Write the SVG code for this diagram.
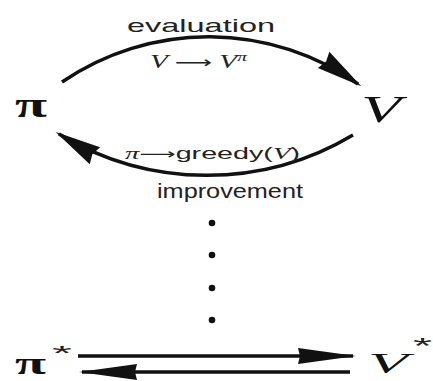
<svg xmlns="http://www.w3.org/2000/svg" width="433" height="381" viewBox="0 0 433 381">
<style>
.edge{fill:none;stroke:#111;stroke-width:3.5}
.lbl{font-family:"Liberation Sans",Arial,sans-serif;fill:#222}
.math{font-family:"Liberation Serif","Times New Roman",serif;font-style:italic;fill:#222}
.arr{font-family:"DejaVu Sans",sans-serif;font-style:normal}
.pi{font-family:"Liberation Serif","Times New Roman",serif;font-weight:bold;fill:#111}
.var{font-family:"Liberation Serif","Times New Roman",serif;font-style:italic;fill:#111}
.dot{fill:#111}
</style>
<defs>
<marker id="headC" markerUnits="userSpaceOnUse" orient="auto" markerWidth="60" markerHeight="30" refX="0" refY="0" overflow="visible">
<path d="M4,0 L-42,-10 L-39,0 L-42,10 Z" fill="#111"/>
</marker>
<marker id="headS" markerUnits="userSpaceOnUse" orient="auto" markerWidth="70" markerHeight="30" refX="0" refY="0" overflow="visible">
<path d="M3,0 L-55,-8 L-53,0 L-55,8 Z" fill="#111"/>
</marker>
</defs>
<rect width="433" height="381" fill="#fff"/>
<g id="connectors">
<path class="edge" d="M62,82 A260,260 0 0 1 358,84" marker-end="url(#headC)"/>
<path class="edge" d="M353,135 A285,285 0 0 1 59,134" marker-end="url(#headC)"/>
<path class="edge" d="M78,356 H353" marker-end="url(#headS)"/>
<path class="edge" d="M350,372 H82" marker-end="url(#headS)"/>
<text class="lbl" x="127" y="32" font-size="19" textLength="148" lengthAdjust="spacingAndGlyphs">evaluation</text>
<text class="math" x="150" y="68" font-size="18" textLength="97" lengthAdjust="spacingAndGlyphs">V <tspan class="arr" font-size="16">⟶</tspan> V<tspan font-size="12" dy="-7">π</tspan></text>
<text class="math" x="125" y="159" font-size="17" textLength="175" lengthAdjust="spacingAndGlyphs">π<tspan class="arr" font-size="15">⟶</tspan><tspan font-style="normal" font-family="Liberation Sans, Arial, sans-serif">greedy(</tspan>V<tspan font-style="normal" font-family="Liberation Sans, Arial, sans-serif">)</tspan></text>
<text class="lbl" x="157" y="198" font-size="21" textLength="146" lengthAdjust="spacingAndGlyphs">improvement</text>
</g>
<g id="node-pi">
<text class="pi" x="15" y="117" font-size="35" textLength="32" lengthAdjust="spacingAndGlyphs">π</text>
</g>
<g id="node-V">
<text class="var" x="361" y="122" font-size="38" textLength="40" lengthAdjust="spacingAndGlyphs">V</text>
</g>
<g id="ellipsis">
<circle class="dot" cx="212" cy="223" r="3.3"/>
<circle class="dot" cx="212" cy="255" r="3.3"/>
<circle class="dot" cx="212" cy="288" r="3.3"/>
<circle class="dot" cx="212" cy="320" r="3.3"/>
</g>
<g id="node-pi-star">
<text class="pi" x="15" y="374" font-size="32" textLength="31" lengthAdjust="spacingAndGlyphs">π</text>
<text class="lbl" x="52" y="360" font-size="20" textLength="20" lengthAdjust="spacingAndGlyphs">*</text>
</g>
<g id="node-V-star">
<text class="var" x="368" y="373" font-size="30" textLength="40" lengthAdjust="spacingAndGlyphs">V</text>
<text class="lbl" x="413" y="353" font-size="22" textLength="19" lengthAdjust="spacingAndGlyphs">*</text>
</g>
</svg>
